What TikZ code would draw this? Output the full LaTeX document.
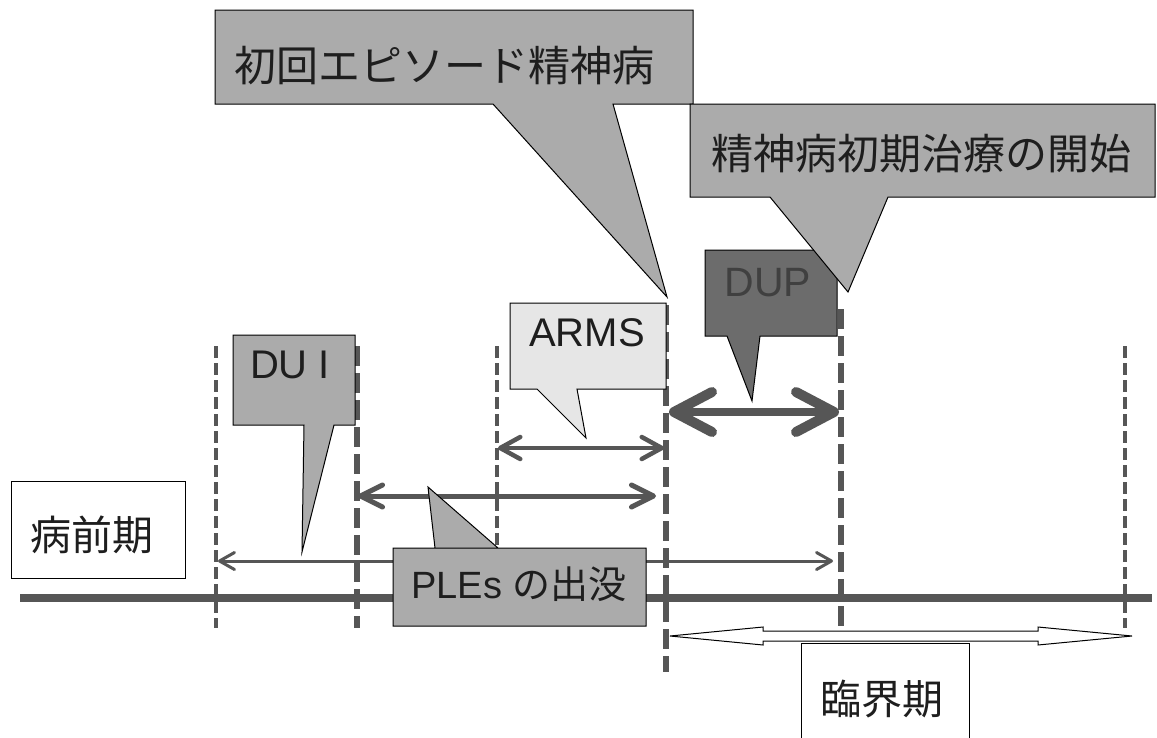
\documentclass[tikz,border=0pt]{standalone}
\usepackage{fontspec}
\setmainfont{Liberation Sans}
\newfontfamily\jp{Noto Sans CJK JP}
\usetikzlibrary{arrows.meta}
\definecolor{lineGray}{HTML}{565656}
\definecolor{midGray}{HTML}{ABABAB}
\definecolor{lightGray}{HTML}{E6E6E6}
\definecolor{darkGray}{HTML}{6C6C6C}
\definecolor{txt}{HTML}{1E1E1E}
\begin{document}
\begin{tikzpicture}[x=1pt,y=-1pt,
  thinDash/.style={draw=lineGray,line width=4pt,dash pattern=on 12pt off 5pt},
  thickDash/.style={draw=lineGray,line width=6.5pt,dash pattern=on 20pt off 7pt},
  calloutShape/.style={draw=black,line width=1pt,line join=miter},
  label/.style={inner sep=0pt,text=txt},
  plainBox/.style={draw=black,line width=1pt,fill=white},
  dupArrow/.style={draw=lineGray,line width=8pt,
     {Straight Barb[length=38pt,width=40pt,line width=10pt,round]}-{Straight Barb[length=38pt,width=40pt,line width=10pt,round]}},
  armsArrow/.style={draw=lineGray,line width=4.5pt,
     {Straight Barb[length=20pt,width=22pt,round]}-{Straight Barb[length=20pt,width=22pt,round]}},
  pleArrow/.style={draw=lineGray,line width=5pt,
     {Straight Barb[length=22pt,width=22pt,round]}-{Straight Barb[length=22pt,width=22pt,round]}},
  longArrow/.style={draw=lineGray,line width=3pt,
     {Straight Barb[length=15pt,width=17pt,round]}-{Straight Barb[length=15pt,width=17pt,round]}},
]
\useasboundingbox[fill=white] (0,0) rectangle (1157,737);

% main timeline
\coordinate (tlL) at (20,598);
\coordinate (tlR) at (1152,598);
\draw[draw=lineGray,line width=8pt] (tlL) -- (tlR);

% vertical dashed lines
\coordinate (v1t) at (216,346); \coordinate (v1b) at (216,628);
\coordinate (v2t) at (357,346); \coordinate (v2b) at (357,628);
\coordinate (v3t) at (497,346); \coordinate (v3b) at (497,590);
\coordinate (v4t) at (666,305); \coordinate (v4b) at (666,672);
\coordinate (v5t) at (841,309); \coordinate (v5b) at (841,632);
\coordinate (v6t) at (1125,346); \coordinate (v6b) at (1125,628);
\draw[thinDash] (v1t) -- (v1b);
\draw[thickDash] (v2t) -- (v2b);
\draw[thinDash] (v3t) -- (v3b);
\draw[thickDash] (v4t) -- (v4b);
\draw[thickDash] (v5t) -- (v5b);
\draw[thinDash] (v6t) -- (v6b);

% interval arrows
\coordinate (dupL) at (669,412); \coordinate (dupR) at (839,412);
\coordinate (armsL) at (498,448); \coordinate (armsR) at (664,448);
\coordinate (pleL) at (358,496); \coordinate (pleR) at (656,496);
\coordinate (longL) at (218,561); \coordinate (longR) at (833,561);
\draw[dupArrow] (dupL) -- (dupR);
\draw[armsArrow] (armsL) -- (armsR);
\draw[pleArrow] (pleL) -- (pleR);
\draw[longArrow] (longL) -- (longR);

% white block double arrow (critical period)
\draw[draw=black,line width=1pt,fill=white]
  (670,636) -- (763,627) -- (763,631) -- (1038,631) -- (1038,627) -- (1132,636)
  -- (1038,645) -- (1038,641) -- (763,641) -- (763,645) -- cycle;

% callouts
\draw[calloutShape,fill=midGray]
  (233,335) -- (355,335) -- (355,425) -- (334,425) -- (302,552) -- (304,425) -- (233,425) -- cycle;
\node[label,font=\fontsize{40}{44}\selectfont] (dui) at (290,365) {DU I};

\draw[calloutShape,fill=midGray]
  (393,548) -- (498,548) -- (428,487) -- (435,548) -- (646,548) -- (646,626) -- (393,626) -- cycle;
\node[label,font=\fontsize{38}{42}\selectfont] (ple) at (519,584) {PLEs {\jp の出没}};

\draw[calloutShape,fill=lightGray]
  (510,303) -- (666,303) -- (666,389) -- (577,389) -- (586,438) -- (537,389) -- (510,389) -- cycle;
\node[label,font=\fontsize{40}{44}\selectfont] (arms) at (587,333) {ARMS};

\draw[calloutShape,fill=midGray]
  (215,10) -- (693,10) -- (693,104) -- (613,104) -- (667,297) -- (493,104) -- (215,104) -- cycle;
\node[label,font=\jp\fontsize{42}{46}\selectfont] (fep) at (444,66) {初回エピソード精神病};

\draw[calloutShape,fill=darkGray]
  (705,250) -- (837,250) -- (837,336) -- (760,336) -- (752,401) -- (727,336) -- (705,336) -- cycle;
\node[label,font=\fontsize{41}{44}\selectfont,text=black!75] (dup) at (768,283) {DUP};

\draw[calloutShape,fill=midGray]
  (690,104) -- (1155,104) -- (1155,197) -- (888,197) -- (848,292) -- (770,197) -- (690,197) -- cycle;
\node[label,font=\jp\fontsize{42}{46}\selectfont] (treat) at (921,154) {精神病初期治療の開始};

% plain boxes
\draw[plainBox] (11,481) rectangle (185,578);
\node[label,font=\jp\fontsize{41}{44}\selectfont] (pre) at (92,535) {病前期};

\draw[plainBox] (801,760) -- (801,643) -- (969,643) -- (969,760);
\node[label,font=\jp\fontsize{41}{44}\selectfont] (crit) at (882,699) {臨界期};
\end{tikzpicture}
\end{document}
